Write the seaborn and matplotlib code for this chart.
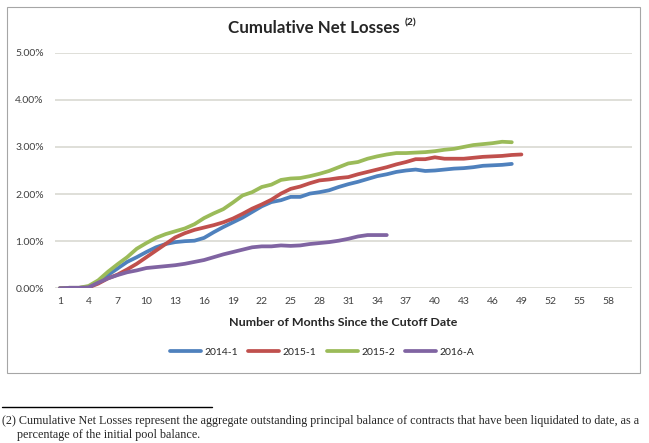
import numpy as np
import pandas as pd
import matplotlib.pyplot as plt
import matplotlib.patches as mpatches
import matplotlib.lines as mlines
import seaborn as sns

# Valores (% acumulado)
serie_2014_1 = [0.00, 0.01, 0.01, 0.02, 0.14, 0.28, 0.42, 0.56, 0.66, 0.77,
                0.87, 0.94, 0.98, 1.00, 1.01, 1.07, 1.19, 1.30, 1.40, 1.50,
                1.62, 1.74, 1.83, 1.87, 1.94, 1.94, 2.01, 2.04, 2.08, 2.15,
                2.21, 2.26, 2.32, 2.38, 2.42, 2.47, 2.50, 2.52, 2.49, 2.50,
                2.52, 2.54, 2.55, 2.57, 2.60, 2.61, 2.62, 2.64]
serie_2015_1 = [0.00, 0.01, 0.01, 0.02, 0.10, 0.21, 0.29, 0.40, 0.52, 0.66,
                0.80, 0.94, 1.08, 1.17, 1.24, 1.29, 1.34, 1.40, 1.48, 1.58,
                1.69, 1.78, 1.88, 2.01, 2.11, 2.16, 2.23, 2.29, 2.31, 2.34,
                2.36, 2.42, 2.47, 2.52, 2.57, 2.63, 2.68, 2.74, 2.74, 2.78,
                2.75, 2.75, 2.75, 2.77, 2.79, 2.80, 2.81, 2.83, 2.84]
serie_2015_2 = [0.00, 0.01, 0.01, 0.05, 0.17, 0.35, 0.51, 0.66, 0.84, 0.96,
                1.07, 1.15, 1.21, 1.27, 1.36, 1.49, 1.59, 1.68, 1.82, 1.97,
                2.04, 2.15, 2.20, 2.30, 2.33, 2.34, 2.38, 2.43, 2.49, 2.57,
                2.65, 2.68, 2.75, 2.80, 2.84, 2.87, 2.87, 2.88, 2.89, 2.91,
                2.94, 2.96, 3.00, 3.04, 3.06, 3.08, 3.11, 3.10]
serie_2016_A = [0.00, 0.01, 0.01, 0.02, 0.12, 0.21, 0.28, 0.34, 0.38, 0.43,
                0.45, 0.47, 0.49, 0.52, 0.56, 0.60, 0.66, 0.72, 0.77, 0.82,
                0.87, 0.89, 0.89, 0.91, 0.90, 0.91, 0.94, 0.96, 0.98, 1.01,
                1.05, 1.10, 1.13, 1.13, 1.13]

series = {"2014-1": serie_2014_1, "2015-1": serie_2015_1,
          "2015-2": serie_2015_2, "2016-A": serie_2016_A}
cores = {"2014-1": "#4F81BD", "2015-1": "#C0504D",
         "2015-2": "#9BBB59", "2016-A": "#8064A2"}

linhas = []
for nome, valores in series.items():
    for i, v in enumerate(valores):
        linhas.append({"mes": i + 1, "perda": v / 100, "serie": nome})
df = pd.DataFrame(linhas)

sns.set_style("white")
plt.rcParams["font.family"] = ["Lato", "DejaVu Sans"]

fig = plt.figure(figsize=(6.49, 4.43), dpi=100)

# Moldura do gráfico
fig.patches.append(mpatches.Rectangle((7 / 649, 1 - 373 / 443), 633 / 649, 366 / 443,
                                      transform=fig.transFigure, fill=False,
                                      edgecolor="#A6A6A6", linewidth=0.8))

ax = fig.add_axes([55 / 649, 1 - 288.3 / 443, 577 / 649, (288.3 - 52.7) / 443])
sns.lineplot(data=df, x="mes", y="perda", hue="serie", palette=cores,
             linewidth=2.7, ax=ax, legend=False)

ax.set_xlim(0.5, 60.5)
ax.set_ylim(0, 0.05)
ax.set_yticks(np.arange(0, 0.0501, 0.01))
ax.set_yticklabels([f"{t * 100:.2f}%" for t in np.arange(0, 0.0501, 0.01)])
ax.set_xticks(range(1, 59, 3))
ax.tick_params(axis="both", length=0, labelsize=7.5, labelcolor="#404040")
ax.tick_params(axis="y", pad=8)
ax.tick_params(axis="x", pad=6)
ax.grid(axis="y", color="#D9D9D2", linewidth=1.2)
for s in ax.spines.values():
    s.set_visible(False)
ax.set_xlabel("Number of Months Since the Cutoff Date", fontsize=8.9,
              fontweight="bold", labelpad=8)
ax.set_ylabel("")

fig.text(314 / 649, 1 - 28 / 443, "Cumulative Net Losses", fontsize=12.2, fontweight="bold",
         ha="center", va="center")
fig.text(405 / 649, 1 - 23 / 443, "(2)", fontsize=7.5, fontweight="bold",
         ha="left", va="center")

handles = [mlines.Line2D([], [], color=cores[n], linewidth=2.7) for n in series]
fig.legend(handles, list(series.keys()), loc="center", ncol=4,
           bbox_to_anchor=(322 / 649, 1 - 352 / 443), frameon=False,
           fontsize=7.5, handlelength=3.0, columnspacing=1.0, handletextpad=0.3)

# Nota de rodapé
fig.add_artist(mlines.Line2D([2 / 649, 212 / 649], [1 - 407 / 443, 1 - 407 / 443],
                             color="black", linewidth=1.0))
fig.text(2 / 649, 1 - 421 / 443,
         "(2) Cumulative Net Losses represent the aggregate outstanding principal balance "
         "of contracts that have been liquidated to date, as a",
         fontsize=8.7, family="Liberation Serif", va="center")
fig.text(17 / 649, 1 - 435 / 443, "percentage of the initial pool balance.",
         fontsize=8.7, family="Liberation Serif", va="center")

fig.savefig("out.png", dpi=100)
